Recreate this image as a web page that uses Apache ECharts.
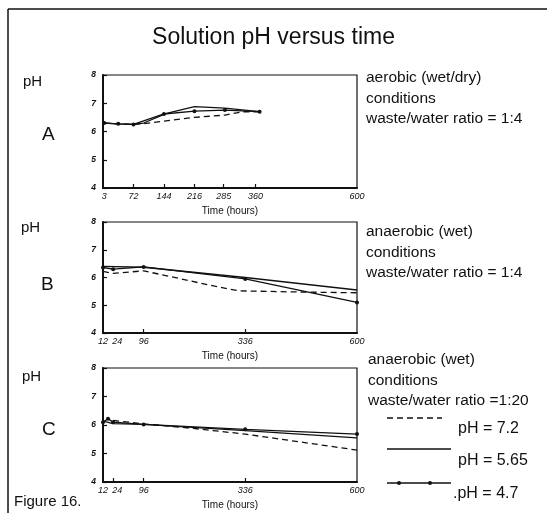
<!DOCTYPE html>
<html>
<head>
<meta charset="utf-8">
<script src="https://cdn.jsdelivr.net/npm/echarts@6/dist/echarts.min.js"></script>
<style>
  html, body { margin: 0; padding: 0; background: #fff; }
  #chart { width: 547px; height: 513px; }
</style>
</head>
<body>
<div id="chart"></div>
<script>
// panel A - aerobic (wet/dry), 1:4
const aDashedTime = [3, 36, 72, 96, 144, 216, 288, 330, 370];
const aDashedPH = [6.3, 6.27, 6.25, 6.28, 6.37, 6.5, 6.58, 6.7, 6.7];
const aSolidTime = [3, 36, 72, 96, 150, 216, 288, 370];
const aSolidPH = [6.3, 6.27, 6.25, 6.3, 6.64, 6.88, 6.83, 6.7];
const aDotTime = [3, 36, 72, 144, 216, 288, 370];
const aDotPH = [6.3, 6.27, 6.25, 6.62, 6.72, 6.76, 6.7];

// panel B - anaerobic (wet), 1:4
const bDashedTime = [0, 24, 96, 160, 250, 320, 450, 600];
const bDashedPH = [6.22, 6.15, 6.24, 6.03, 5.73, 5.52, 5.48, 5.45];
const bSolidTime = [0, 96, 336, 600];
const bSolidPH = [6.4, 6.37, 6.0, 5.55];
const bDotTime = [0, 24, 96, 336, 600];
const bDotPH = [6.36, 6.3, 6.38, 5.95, 5.1];

// panel C - anaerobic (wet), 1:20
const cDashedTime = [24, 96, 214, 336, 600];
const cDashedPH = [6.16, 6.04, 5.88, 5.68, 5.12];
const cSolidTime = [0, 24, 96, 336, 600];
const cSolidPH = [6.14, 6.05, 6.02, 5.8, 5.55];
const cDotTime = [0, 12, 24, 96, 336, 600];
const cDotPH = [6.1, 6.22, 6.1, 6.02, 5.85, 5.68];

// axis labels
const aTimeLabels = [3, 72, 144, 216, 285, 360, 600];
const aTimeTicks = [72, 144, 216, 285, 360];
const bTimeLabels = [12, 24, 96, 336, 600];
const bTimeTicks = [96, 336];
const cTimeLabels = [12, 24, 96, 336, 600];
const cTimeTicks = [24, 96, 336];
const phLabels = [4, 5, 6, 7, 8];

const FONT = '"Liberation Sans", Arial, sans-serif';
const INK = '#111';

const grids = [
  { left: 103, top: 75, width: 254, height: 113 },
  { left: 103, top: 222, width: 254, height: 111 },
  { left: 103, top: 368, width: 254, height: 114 },
].map((g) => ({ ...g, show: true, borderColor: INK, borderWidth: 1.2 }));

function timeAxis(idx, labels, ticks) {
  return {
    type: 'value',
    gridIndex: idx,
    min: 0,
    max: 600,
    name: 'Time (hours)',
    nameLocation: 'middle',
    nameGap: 18,
    nameTextStyle: { fontFamily: FONT, fontSize: 10, color: INK },
    axisLine: { lineStyle: { color: INK, width: 2 } },
    axisTick: { inside: true, length: 4, customValues: ticks, lineStyle: { color: INK, width: 1.2 } },
    axisLabel: {
      customValues: labels,
      hideOverlap: false,
      showMinLabel: true,
      showMaxLabel: true,
      fontFamily: FONT, fontSize: 9, fontStyle: 'italic', color: INK, margin: 4,
      // 12 and 24 sit almost on top of each other, nudge them apart
      formatter: (v) => (v === 12 ? `{l|${v}}` : v === 24 ? `{r|${v}}` : `${v}`),
      rich: {
        l: { padding: [0, 10, 0, 0], fontFamily: FONT, fontSize: 9, fontStyle: 'italic', color: INK },
        r: { padding: [0, 0, 0, 8], fontFamily: FONT, fontSize: 9, fontStyle: 'italic', color: INK },
      },
    },
    splitLine: { show: false },
  };
}

function phAxis(idx) {
  return {
    type: 'value',
    gridIndex: idx,
    min: 4,
    max: 8,
    interval: 1,
    axisLine: { show: true, lineStyle: { color: INK, width: 2 } },
    axisTick: { show: true, inside: true, length: 4, lineStyle: { color: INK, width: 1.2 } },
    axisLabel: {
      customValues: phLabels,
      fontFamily: FONT, fontSize: 8.5, fontStyle: 'italic', fontWeight: 'bold', color: INK, margin: 7,
    },
    splitLine: { show: false },
  };
}

const pairs = (xs, ys) => xs.map((x, i) => [x, ys[i]]);

function lineSeries(idx, xs, ys, kind) {
  const s = {
    type: 'line',
    xAxisIndex: idx,
    yAxisIndex: idx,
    data: pairs(xs, ys),
    symbol: 'none',
    lineStyle: { color: INK, width: 1.3, type: 'solid' },
    silent: true,
    z: 3,
  };
  if (kind === 'dashed') s.lineStyle.type = [6, 4];
  if (kind === 'dot') {
    s.symbol = 'circle';
    s.symbolSize = 4;
    s.itemStyle = { color: INK };
  }
  return s;
}

const series = [
  lineSeries(0, aDashedTime, aDashedPH, 'dashed'),
  lineSeries(0, aSolidTime, aSolidPH, 'solid'),
  lineSeries(0, aDotTime, aDotPH, 'dot'),
  lineSeries(1, bDashedTime, bDashedPH, 'dashed'),
  lineSeries(1, bSolidTime, bSolidPH, 'solid'),
  lineSeries(1, bDotTime, bDotPH, 'dot'),
  lineSeries(2, cDashedTime, cDashedPH, 'dashed'),
  lineSeries(2, cSolidTime, cSolidPH, 'solid'),
  lineSeries(2, cDotTime, cDotPH, 'dot'),
];

const txt = (x, y, text, size, extra) => ({
  type: 'text',
  x,
  y,
  style: {
    text, fill: INK, font: `${size}px ${FONT}`, textVerticalAlign: 'middle', ...(extra || {}),
  },
});

const sideNotes = [
  { y: 78, lines: ['aerobic (wet/dry)', 'conditions', 'waste/water ratio = 1:4'], x: 366 },
  { y: 232, lines: ['anaerobic (wet)', 'conditions', 'waste/water ratio = 1:4'], x: 366 },
  { y: 360, lines: ['anaerobic (wet)', 'conditions', 'waste/water ratio =1:20'], x: 368 },
];

const graphic = [
  // frame
  { type: 'line', shape: { x1: 8, y1: 9, x2: 8, y2: 513 }, style: { stroke: INK, lineWidth: 1.5 } },
  { type: 'line', shape: { x1: 8, y1: 9, x2: 547, y2: 9 }, style: { stroke: INK, lineWidth: 1.5 } },
  txt(23, 82, 'pH', 15),
  txt(21, 228, 'pH', 15),
  txt(22, 377, 'pH', 15),
  txt(42, 135, 'A', 19),
  txt(41, 285, 'B', 19),
  txt(42, 430, 'C', 19),
  txt(14, 502, 'Figure 16.', 15),
];
sideNotes.forEach((n) => {
  n.lines.forEach((l, i) => graphic.push(txt(n.x, n.y + i * 20.5, l, 15.5)));
});
// legend
graphic.push(
  { type: 'line', shape: { x1: 387, y1: 418, x2: 442, y2: 418 }, style: { stroke: INK, lineWidth: 1.3, lineDash: [6, 4] } },
  txt(458, 429, 'pH = 7.2', 16),
  { type: 'line', shape: { x1: 387, y1: 449, x2: 451, y2: 449 }, style: { stroke: INK, lineWidth: 1.3 } },
  txt(458, 461, 'pH = 5.65', 16),
  { type: 'line', shape: { x1: 387, y1: 483, x2: 451, y2: 483 }, style: { stroke: INK, lineWidth: 1.3 } },
  { type: 'circle', shape: { cx: 399, cy: 483, r: 2 }, style: { fill: INK } },
  { type: 'circle', shape: { cx: 430, cy: 483, r: 2 }, style: { fill: INK } },
  txt(453, 494, '.pH = 4.7', 16),
);

const chart = echarts.init(document.getElementById('chart'), null, { renderer: 'canvas' });
chart.setOption({
  animation: false,
  backgroundColor: '#fff',
  title: {
    text: 'Solution pH versus time',
    left: 'center',
    top: 21,
    textStyle: { fontFamily: FONT, fontSize: 23, fontWeight: 'normal', color: INK },
  },
  grid: grids,
  xAxis: [
    timeAxis(0, aTimeLabels, aTimeTicks),
    timeAxis(1, bTimeLabels, bTimeTicks),
    timeAxis(2, cTimeLabels, cTimeTicks),
  ],
  yAxis: [phAxis(0), phAxis(1), phAxis(2)],
  series,
  graphic,
});
</script>
</body>
</html>
